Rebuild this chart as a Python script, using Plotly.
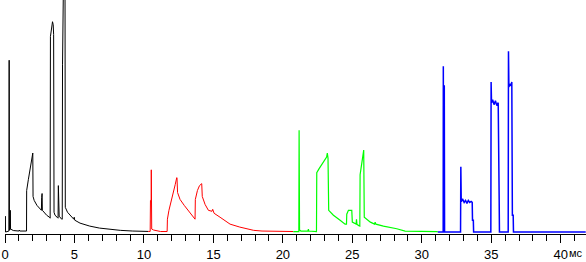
import plotly.graph_objects as go

# Time axis in ms, signal amplitude in arbitrary units
black_x = [0.0, 0.01, 0.02, 0.04, 0.28, 0.30, 0.32, 0.36, 0.38, 0.40, 0.6, 1.0, 1.03, 1.06, 1.55, 1.56, 1.68, 1.80, 1.92, 1.97, 2.0, 2.02,
           2.1, 2.3, 2.5, 2.62, 2.64, 2.67, 2.69, 2.8, 3.0, 3.2, 3.25, 3.27, 3.33, 3.37, 3.42, 3.47, 3.5, 3.53,
           3.6, 3.75, 3.82, 3.84, 3.87, 3.9, 4.08, 4.12, 4.14, 4.18, 4.2, 4.32, 4.34, 4.5, 4.7, 4.95, 4.98, 5.02,
           5.4, 6.1, 6.8, 7.6, 8.3, 9.2, 10.3]
black_y = [0, 0, 16, 0, 1, 174, 2, 2, 22, 3, 1.5, 1, 2, 1, 1, 42, 53, 65, 76, 78, 80, 36,
           32, 27, 24, 22, 35, 39, 22, 20, 17, 15, 14, 198, 203, 207, 213, 210, 200, 20,
           17, 15, 14, 47, 30, 16, 13, 13, 170, 200, 245, 245, 25, 20, 17, 13, 15, 12,
           9, 6, 4, 2.7, 1.7, 1, 0.6]

red_x = [10.3, 10.45, 10.47, 10.52, 10.53, 10.56, 10.7, 11.0, 11.2, 11.67, 11.69, 11.8, 11.95, 12.1, 12.25, 12.36, 12.38,
         12.42, 12.6, 12.9, 13.2, 13.5, 13.68, 13.70, 13.85, 14.0, 14.16, 14.2, 14.4, 14.64, 14.9, 14.95, 15.05,
         15.48, 16.2, 16.9, 17.9, 18.5, 20.75]
red_y = [0.6, 0.6, 32, 32, 63, 3, 2, 1, 0.5, 0.5, 13, 22, 30, 40, 48, 55, 55,
         40, 33, 27, 22, 16, 13, 33, 42, 47, 49, 36, 28, 22, 21, 23, 19,
         15, 8, 5, 1.7, 1, 0.5]

green_x = [20.75, 21.15, 21.17, 21.20, 21.3, 21.8, 21.84, 21.87, 22.42, 22.44, 22.6, 22.8, 23.0, 23.15, 23.2, 23.25, 23.3,
           23.64, 24.12, 24.48, 24.58, 24.6, 24.72, 24.96, 25.0, 25.27, 25.3, 25.33, 25.44, 25.54, 25.56, 25.68,
           25.78, 25.82, 25.86, 26.3, 26.6, 26.64, 26.7, 27.24, 28.2, 28.8, 31.15]
green_y = [0.5, 0.5, 103, 2, 1, 1, 3, 1, 0.5, 60, 64, 68, 73, 76, 80, 75, 22,
           17, 12, 8, 8, 18, 22, 22, 10, 8, 13, 8, 6.7, 6, 58, 70,
           80, 83, 15, 10, 8, 10, 8, 6, 3.3, 1, 0.5]

blue_x = [31.15, 31.54, 31.55, 31.57, 31.59, 31.62, 31.64, 32.79, 32.81, 32.84, 32.95, 33.05, 33.15, 33.25, 33.35, 33.45,
          33.55, 33.63, 33.65, 33.71, 33.73, 34.97, 34.99, 35.02, 35.1, 35.2, 35.3, 35.4, 35.5, 35.52, 35.57, 35.59,
          36.22, 36.24, 36.27, 36.35, 36.42, 36.48, 36.52, 36.58, 36.6, 41.8]
blue_y = [0, 0, 168, 30, 148, 148, 0, 0, 66, 31, 33, 30, 32, 29, 32, 30,
          31, 30, 12, 12, 0, 0, 152, 131, 134, 129, 133, 128, 131, 33, 33, 0,
          0, 183, 147, 150, 148, 152, 17, 17, 0, 0]

series = [
    (black_x, black_y, "#000000", 1),
    (red_x, red_y, "#ff0000", 1),
    (green_x, green_y, "#00ff00", 1.2),
    (blue_x, blue_y, "#0000ff", 1.5),
]

fig = go.Figure()
for xs, ys, col, w in series:
    fig.add_trace(go.Scatter(x=xs, y=ys, mode="lines", line=dict(color=col, width=w),
                             hoverinfo="skip", showlegend=False))

fig.update_layout(
    width=586, height=262,
    margin=dict(l=5, r=0, t=0, b=25),
    paper_bgcolor="white", plot_bgcolor="white",
    font=dict(family="Liberation Sans, Arial, sans-serif", size=12, color="black"),
    xaxis=dict(range=[0, 41.82], tickmode="linear", tick0=0, dtick=5,
               showgrid=False, zeroline=False, showline=True, linecolor="black", linewidth=1,
               ticks="outside", ticklen=8, tickcolor="black", tickwidth=1,
               minor=dict(dtick=1, ticks="outside", ticklen=6, tickcolor="black", tickwidth=1, showgrid=False),
               tickfont=dict(size=13)),
    yaxis=dict(range=[-2, 235], visible=False, showgrid=False, zeroline=False),
)
fig.add_annotation(text="мс", xref="paper", yref="paper", x=(576 - 5) / 581, y=-(249 - 237) / 237,
                   showarrow=False, xanchor="center", yanchor="top", borderpad=0,
                   font=dict(size=11, color="black"))

fig.write_html("out.html")
